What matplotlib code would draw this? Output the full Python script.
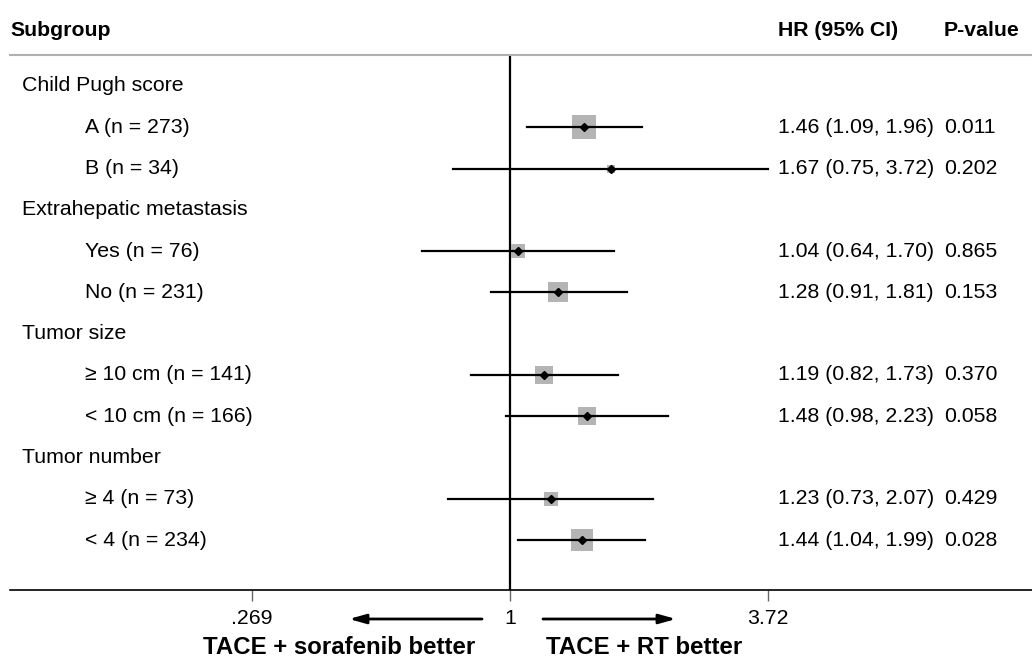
import numpy as np
import matplotlib
matplotlib.use("Agg")
import matplotlib.pyplot as plt
from matplotlib.patches import FancyArrowPatch
from matplotlib.transforms import blended_transform_factory

plt.rcParams['font.family'] = ['Liberation Sans', 'DejaVu Sans']

# data
groups = ["Child Pugh score", "Extrahepatic metastasis", "Tumor size", "Tumor number"]
labels = ["A (n = 273)", "B (n = 34)", "Yes (n = 76)", "No (n = 231)",
          "≥ 10 cm (n = 141)", "< 10 cm (n = 166)", "≥ 4 (n = 73)", "< 4 (n = 234)"]
group_idx = [0, 0, 1, 1, 2, 2, 3, 3]
hr = [1.46, 1.67, 1.04, 1.28, 1.19, 1.48, 1.23, 1.44]
ci_lo = [1.09, 0.75, 0.64, 0.91, 0.82, 0.98, 0.73, 1.04]
ci_hi = [1.96, 3.72, 1.70, 1.81, 1.73, 2.23, 2.07, 1.99]
pvals = ["0.011", "0.202", "0.865", "0.153", "0.370", "0.058", "0.429", "0.028"]
xticks = [0.269, 1, 3.72]
xtick_labels = [".269", "1", "3.72"]

W, H = 1032, 658
fig = plt.figure(figsize=(W / 100, H / 100), dpi=100)
# axes spans nearly full width; top at y=55px, bottom at y=590px
ax = fig.add_axes([10 / W, 1 - 590 / H, (W - 10) / W, (590 - 55) / H])
ax.set_xscale("log")
ax.set_xlim(np.exp(-2.545), np.exp(2.657))

# row layout: group header then its subgroups
rows = []
last = None
for i, g in enumerate(group_idx):
    if g != last:
        rows.append(("group", g))
        last = g
    rows.append(("item", i))
n_rows = len(rows)
ax.set_ylim(n_rows - 1 + 1.21, -0.75)

fx = blended_transform_factory(fig.transFigure, ax.transData)
fs = 15.3

for r, (kind, k) in enumerate(rows):
    if kind == "group":
        ax.text(22 / W, r, groups[k], transform=fx, fontsize=fs, va="center", ha="left")
        continue
    ax.text(85 / W, r, labels[k], transform=fx, fontsize=fs, va="center", ha="left")
    ax.text(778 / W, r, f"{hr[k]:.2f} ({ci_lo[k]:.2f}, {ci_hi[k]:.2f})", transform=fx,
            fontsize=fs, va="center", ha="left")
    ax.text(944 / W, r, pvals[k], transform=fx, fontsize=fs, va="center", ha="left")
    # square size from inverse-variance weight
    se = (np.log(ci_hi[k]) - np.log(ci_lo[k])) / (2 * 1.96)
    side_px = 3.6 * np.sqrt(1 / se ** 2)
    ax.plot([ci_lo[k], ci_hi[k]], [r, r], color="black", lw=1.6, zorder=2)
    ax.plot(hr[k], r, marker="s", markersize=side_px * 0.72, color="#b4b4b4",
            markeredgewidth=0, zorder=1)
    ax.plot(hr[k], r, marker="D", markersize=4, color="black", zorder=3)

ax.axvline(1, color="black", lw=1.6, zorder=0)

for s in ["left", "right"]:
    ax.spines[s].set_visible(False)
ax.spines["top"].set_color("#b0b0b0")
ax.spines["top"].set_linewidth(1.5)
ax.spines["bottom"].set_linewidth(1.2)
ax.set_yticks([])
ax.set_xticks(xticks)
ax.set_xticklabels(xtick_labels, fontsize=fs)
ax.minorticks_off()
ax.tick_params(axis="x", length=8, width=1.0, color="#666666", pad=6)

# headers
fig.text(10 / W, 1 - 30 / H, "Subgroup", fontsize=fs, fontweight="bold", va="center")
fig.text(778 / W, 1 - 30 / H, "HR (95% CI)", fontsize=fs, fontweight="bold", va="center")
fig.text(944 / W, 1 - 30 / H, "P-value", fontsize=fs, fontweight="bold", va="center")

# direction arrows and labels
ya = 1 - 619 / H
arr = dict(arrowstyle="-|>,head_length=0.5,head_width=0.14", color="black", lw=2,
           mutation_scale=20, shrinkA=0, shrinkB=0, transform=fig.transFigure)
fig.add_artist(FancyArrowPatch((482 / W, ya), (349 / W, ya), **arr))
fig.add_artist(FancyArrowPatch((543 / W, ya), (676 / W, ya), **arr))
fig.text(339 / W, 1 - 647 / H, "TACE + sorafenib better", fontsize=17.3,
         fontweight="bold", ha="center", va="center")
fig.text(644 / W, 1 - 647 / H, "TACE + RT better", fontsize=17.3,
         fontweight="bold", ha="center", va="center")

fig.savefig("out.png", dpi=100)
